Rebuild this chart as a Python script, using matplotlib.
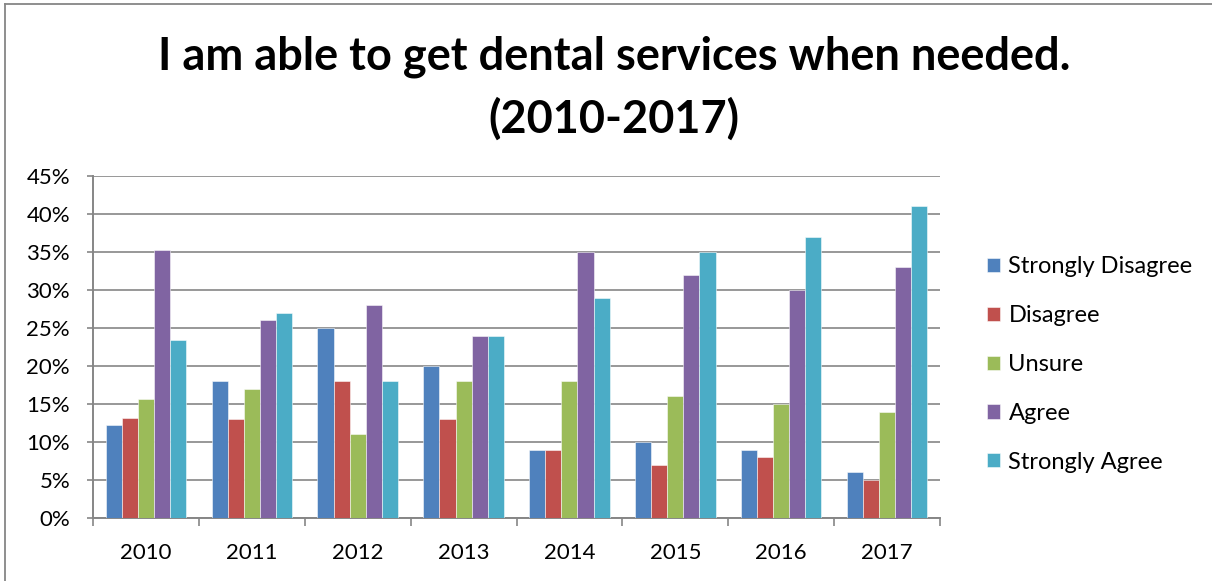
import matplotlib
matplotlib.use("Agg")
import matplotlib.pyplot as plt
import numpy as np
from matplotlib.lines import Line2D
from matplotlib.ticker import FixedLocator, NullFormatter

plt.rcParams['font.family'] = ['Lato', 'DejaVu Sans']

years = ['2010', '2011', '2012', '2013', '2014', '2015', '2016', '2017']
strongly_disagree = [12.2, 18, 25, 20, 9, 10, 9, 6]
disagree = [13.2, 13, 18, 13, 9, 7, 8, 5]
unsure = [15.7, 17, 11, 18, 18, 16, 15, 14]
agree = [35.3, 26, 28, 24, 35, 32, 30, 33]
strongly_agree = [23.4, 27, 18, 24, 29, 35, 37, 41]

series = [
    ('Strongly Disagree', strongly_disagree, '#4F81BD'),
    ('Disagree', disagree, '#C0504D'),
    ('Unsure', unsure, '#9BBB59'),
    ('Agree', agree, '#8064A2'),
    ('Strongly Agree', strongly_agree, '#4BACC6'),
]

W, H = 1212, 581
fig = plt.figure(figsize=(W / 100, H / 100), dpi=100)
ax = fig.add_axes([93 / W, 1 - 518 / H, (940 - 93) / W, (518 - 176) / H])

x = np.arange(len(years))
bw = 0.152
for i, (name, vals, col) in enumerate(series):
    ax.bar(x + (i - 2) * bw, vals, width=bw, color=col, label=name,
           edgecolor=(1, 1, 1, 0.6), linewidth=0.6, zorder=3)

ax.set_xlim(-0.5, len(years) - 0.5)
ax.set_ylim(0, 45)
ax.set_yticks(np.arange(0, 46, 5))
ax.set_yticklabels([f'{v}%' for v in range(0, 46, 5)])
ax.yaxis.grid(True, color='#868686', linewidth=1.2, zorder=0)
ax.set_axisbelow(True)

ax.set_xticks(x)
ax.set_xticklabels(years)
ax.tick_params(axis='x', which='major', length=0, pad=18, labelsize=16)
ax.xaxis.set_minor_locator(FixedLocator(np.arange(-0.5, len(years), 1.0)))
ax.xaxis.set_minor_formatter(NullFormatter())
ax.tick_params(axis='x', which='minor', length=6, width=1.2, color='#868686')
ax.tick_params(axis='y', length=4, width=1.2, color='#868686', labelsize=16, pad=12.5)

for s in ['top', 'right']:
    ax.spines[s].set_visible(False)
for s in ['left', 'bottom']:
    ax.spines[s].set_color('#868686')
    ax.spines[s].set_linewidth(1.4)

fig.text(614 / W, 1 - 57 / H, 'I am able to get dental services when needed.',
         ha='center', va='center', fontsize=32.5, fontweight='bold')
fig.text(614 / W, 1 - 119 / H, '(2010-2017)',
         ha='center', va='center', fontsize=32.5, fontweight='bold')

leg = ax.legend(loc='center left', bbox_to_anchor=(966 / W, 1 - 364.5 / H),
                bbox_transform=fig.transFigure, frameon=False, fontsize=17,
                handlelength=0.55, handleheight=0.55, handletextpad=0.35,
                labelspacing=1.18)

fig.add_artist(Line2D([5 / W, 5 / W], [0, 1 - 4 / H], transform=fig.transFigure,
                      color='#868686', linewidth=1.3))
fig.add_artist(Line2D([5 / W, 1], [1 - 4 / H, 1 - 4 / H], transform=fig.transFigure,
                      color='#868686', linewidth=1.3))

fig.savefig('out.png', dpi=100)
